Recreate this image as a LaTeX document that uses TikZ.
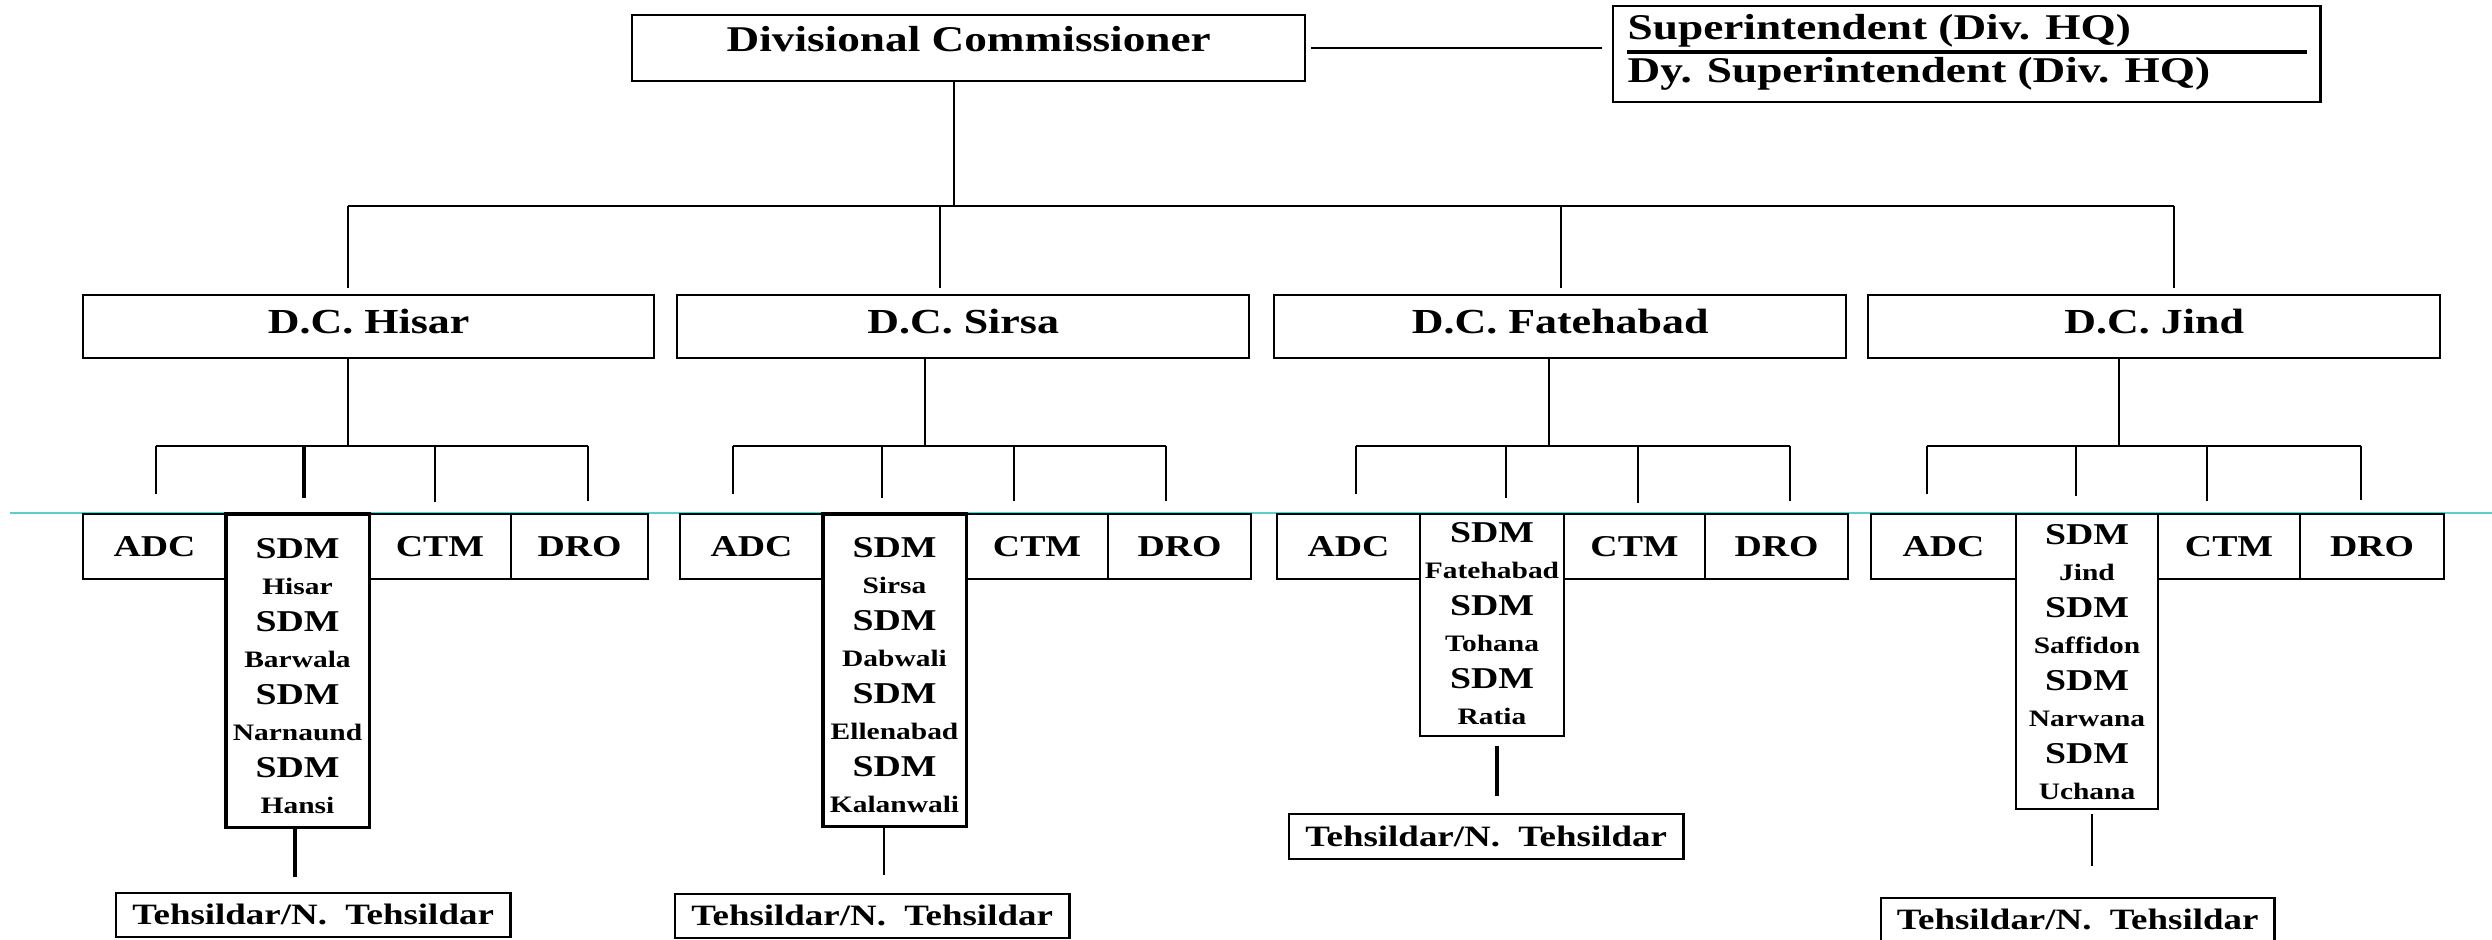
\documentclass[tikz,border=0pt]{standalone}
\usepackage{fontspec}
\setmainfont{Liberation Serif}[FakeStretch=1.25]
\definecolor{cyanln}{RGB}{95,205,205}
\tikzset{
  bx/.style={draw, line width=0.6pt, inner sep=0pt, outer sep=0pt, anchor=north west},
  ln/.style={line width=0.6pt},
  thk/.style={line width=1pt},
  topt/.style={font=\fontsize{10.3}{12}\selectfont\bfseries, inner sep=0pt},
  dct/.style={font=\fontsize{10}{12}\selectfont\bfseries, text height=6.6pt, text depth=2.4pt},
  cell/.style={bx, minimum height=0.65cm, font=\fontsize{8.6}{10}\selectfont\bfseries, text height=5.7pt, text depth=0pt},
  sdmbox/.style={bx, line width=0.9pt},
  bigt/.style={font=\fontsize{8.6}{10}\selectfont\bfseries, inner sep=0pt},
  smallt/.style={font=\fontsize{6.7}{8}\selectfont\bfseries, inner sep=0pt},
  tehs/.style={bx, line width=0.75pt, font=\fontsize{8.4}{10}\selectfont\bfseries, text height=5.6pt, text depth=0pt}
}
\newcommand{\sdmlines}[4]{%
  \foreach \t [count=\i] in {#4} {%
    \pgfmathsetmacro{\yy}{#3+(\i-1)*36.5}%
    \ifodd\i
      \node[bigt, anchor=base] (#1\i) at (#2,\yy) {\t};
    \else
      \node[smallt, anchor=base] (#1\i) at (#2,\yy) {\t};
    \fi
  }%
}
\begin{document}
\begin{tikzpicture}[x=0.01cm, y=-0.01cm]
\fill[white] (0,0) rectangle (2492,940);
\useasboundingbox (0,0) rectangle (2492,940);

% cyan guide line
\coordinate (cy0) at (10,513);
\coordinate (cy1) at (2492,513);
\draw[cyanln, line width=0.5pt] (cy0) -- (cy1);

% top level
\node[bx, minimum width=6.73cm, minimum height=0.66cm, font=\fontsize{10.3}{12}\selectfont\bfseries, text height=6.8pt, text depth=4.6pt] (dc) at (632,15) {Divisional Commissioner};
\node[bx, minimum width=7.07cm, minimum height=0.96cm] (supt) at (1613,6) {};
\node[topt, anchor=base west] (s1) at (1627,40) {Superintendent (Div. HQ)};
\node[topt, anchor=base west] (s2) at (1627,83) {Dy. Superintendent (Div. HQ)};
\coordinate (dv1) at (1627,52);
\coordinate (dv2) at (2307,52);
\draw[line width=0.9pt] (dv1) -- (dv2);
\draw[ln, shorten <=0.06cm, shorten >=0.11cm] (dc.east) -- (dc.east -| supt.west);

% district boxes
\node[bx, dct, minimum width=5.71cm, minimum height=0.63cm] (hisar) at (83,295) {D.C. Hisar};
\node[bx, dct, minimum width=5.72cm, minimum height=0.63cm] (sirsa) at (677,295) {D.C. Sirsa};
\node[bx, dct, minimum width=5.72cm, minimum height=0.63cm] (fateh) at (1274,295) {D.C. Fatehabad};
\node[bx, dct, minimum width=5.72cm, minimum height=0.63cm] (jind) at (1868,295) {D.C. Jind};

% level-1 connectors
\coordinate (j0) at (954,206);
\coordinate (jH) at (348,206);
\coordinate (jS) at (940,206);
\coordinate (jF) at (1561,206);
\coordinate (jJ) at (2174,206);
\draw[ln] (dc.south -| j0) -- (j0);
\draw[ln] (jH) -- (jJ);
\foreach \j/\n in {jH/hisar, jS/sirsa, jF/fateh, jJ/jind}
  \draw[ln, shorten >=0.07cm] (\j) -- (\j |- \n.north);

% ---------- row 3 cells ----------
% Hisar
\node[cell, minimum width=1.43cm] (hadc) at (83,514) {ADC};
\node[cell, minimum width=1.42cm] (hctm) at (369,514) {CTM};
\node[cell, minimum width=1.37cm] (hdro) at (511,514) {DRO};
\node[sdmbox, minimum width=1.43cm, minimum height=3.13cm] (hsdm) at (226,514) {};
\sdmlines{hl}{297.5}{558}{SDM,Hisar,SDM,Barwala,SDM,Narnaund,SDM,Hansi}
% Sirsa
\node[cell, minimum width=1.43cm] (sadc) at (680,514) {ADC};
\node[cell, minimum width=1.42cm] (sctm) at (966,514) {CTM};
\node[cell, minimum width=1.43cm] (sdro) at (1108,514) {DRO};
\node[sdmbox, minimum width=1.43cm, minimum height=3.12cm] (ssdm) at (823,514) {};
\sdmlines{sl}{894.5}{557}{SDM,Sirsa,SDM,Dabwali,SDM,Ellenabad,SDM,Kalanwali}
% Fatehabad
\node[cell, minimum width=1.43cm] (fadc) at (1277,514) {ADC};
\node[cell, minimum width=1.41cm] (fctm) at (1564,514) {CTM};
\node[cell, minimum width=1.43cm] (fdro) at (1705,514) {DRO};
\node[sdmbox, line width=0.7pt, minimum width=1.44cm, minimum height=2.22cm] (fsdm) at (1420,514) {};
\sdmlines{fl}{1492}{542}{SDM,Fatehabad,SDM,Tohana,SDM,Ratia}
% Jind
\node[cell, minimum width=1.45cm] (jadc) at (1871,514) {ADC};
\node[cell, minimum width=1.42cm] (jctm) at (2158,514) {CTM};
\node[cell, minimum width=1.44cm] (jdro) at (2300,514) {DRO};
\node[sdmbox, line width=0.7pt, minimum width=1.42cm, minimum height=2.95cm] (jsdm) at (2016,514) {};
\sdmlines{jl}{2087}{544}{SDM,Jind,SDM,Saffidon,SDM,Narwana,SDM,Uchana}

% ---------- level-2 connectors ----------
\coordinate (vH) at (348,446);
\coordinate (vS) at (925,446);
\coordinate (vF) at (1549,446);
\coordinate (vJ) at (2119,446);
\coordinate (hA) at (156,494);  \coordinate (hS) at (304,498);  \coordinate (hC) at (435,502);  \coordinate (hD) at (588,501);
\coordinate (sA) at (733,494);  \coordinate (sS) at (882,498);  \coordinate (sC) at (1014,501); \coordinate (sD) at (1166,501);
\coordinate (fA) at (1356,494); \coordinate (fS) at (1506,498); \coordinate (fC) at (1638,503); \coordinate (fD) at (1790,501);
\coordinate (gA) at (1927,494); \coordinate (gS) at (2076,496); \coordinate (gC) at (2207,501); \coordinate (gD) at (2361,500);

\draw[ln] (hisar.south -| vH) -- (vH);
\draw[ln] (sirsa.south -| vS) -- (vS);
\draw[ln] (fateh.south -| vF) -- (vF);
\draw[ln] (jind.south -| vJ) -- (vJ);

\draw[ln, line width=0.75pt] (hA |- vH) -- (hD |- vH);
\draw[ln, line width=0.75pt] (sA |- vS) -- (sD |- vS);
\draw[ln, line width=0.75pt] (fA |- vF) -- (fD |- vF);
\draw[ln, line width=0.75pt] (gA |- vJ) -- (gD |- vJ);

\foreach \c in {hA,hC,hD} \draw[ln, line width=0.7pt] (\c |- vH) -- (\c);
\draw[thk] (hS |- vH) -- (hS);
\foreach \c in {sA,sS,sC,sD} \draw[ln, line width=0.7pt] (\c |- vS) -- (\c);
\foreach \c in {fA,fS,fC,fD} \draw[ln, line width=0.7pt] (\c |- vF) -- (\c);
\foreach \c in {gA,gS,gC,gD} \draw[ln, line width=0.7pt] (\c |- vJ) -- (\c);

% ---------- Tehsildar boxes ----------
\node[tehs, minimum width=3.94cm, minimum height=0.44cm] (hteh) at (116,893) {Tehsildar/N.\ \ Tehsildar};
\node[tehs, minimum width=3.94cm, minimum height=0.44cm] (steh) at (675,894) {Tehsildar/N.\ \ Tehsildar};
\node[tehs, minimum width=3.94cm, minimum height=0.45cm] (fteh) at (1289,814) {Tehsildar/N.\ \ Tehsildar};
\node[tehs, minimum width=3.93cm, minimum height=0.44cm] (jteh) at (1881,898) {Tehsildar/N.\ \ Tehsildar};

\coordinate (tH) at (295,877);
\coordinate (tS) at (884,875);
\coordinate (tF) at (1497,796);
\coordinate (tJ) at (2092,866);
\draw[line width=1.1pt] (hsdm.south -| tH) -- (tH);
\draw[line width=0.7pt] (ssdm.south -| tS) -- (tS);
\draw[line width=1.1pt, shorten <=0.1cm] (fsdm.south -| tF) -- (tF);
\draw[line width=0.75pt, shorten <=0.05cm] (jsdm.south -| tJ) -- (tJ);
\end{tikzpicture}
\end{document}
